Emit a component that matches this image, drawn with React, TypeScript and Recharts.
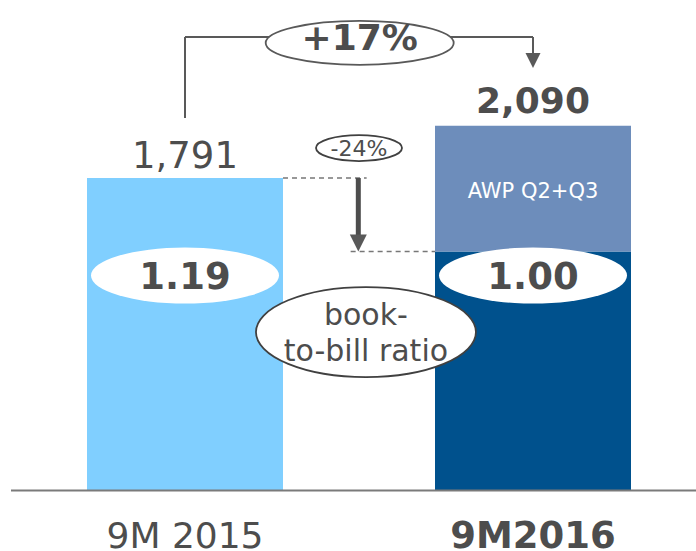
import React from 'react';
import {
    BarChart,
    Bar,
    Cell,
    XAxis,
    YAxis,
    LabelList,
    ReferenceLine,
    ReferenceDot,
} from 'recharts';

// order intake, EUR m
const categories = ['9M 2015', '9M2016'];
const categoryPos = [0.5, 1.5];
const baseOrders = [1791, 1370];
const awpOrders = [0, 720];
const totalLabels = ['1,791', '2,090'];
const bookToBill = ['1.19', '1.00'];
const growthLabel = '+17%';
const dropLabel = '-24%';
const awpLabel = 'AWP Q2+Q3';

const FONT = '"DejaVu Sans", Verdana, sans-serif';
const TEXT = '#4d4d4d';
const LINE = '#595959';
const barColors = ['#80cfff', '#00518d'];
const awpColor = '#6d8dbb';

const chartData = categories.map((name, i) => ({
    pos: categoryPos[i],
    name,
    base: baseOrders[i],
    awp: awpOrders[i],
}));

const totals = baseOrders.map((v, i) => v + awpOrders[i]);

// half the bar width, in x-axis units (bar 196px, band 348px)
const HALF_BAR = 98 / 348;
const MID = 1.0;

const CategoryTick = (props: any) => {
    const { x, y, payload } = props;
    const i = categoryPos.indexOf(payload.value);
    return (
        <text
            x={x}
            y={y + 49.5}
            textAnchor="middle"
            fill={TEXT}
            fontFamily={FONT}
            fontSize={i === 1 ? 37 : 36}
            fontWeight={i === 1 ? 'bold' : 'normal'}
        >
            {categories[i]}
        </text>
    );
};

const arrowDown = (w: number, h: number) => (props: any) => {
    const { cx, cy } = props;
    return (
        <path
            d={`M${cx - w / 2},${cy - h} L${cx + w / 2},${cy - h} L${cx},${cy} Z`}
            fill={LINE}
        />
    );
};

const ellipseText = (
    lines: string[],
    opts: { rx: number; ry: number; dy: number; size: number; bold?: boolean; stroke?: string; textDy: number; lineGap?: number }
) => (props: any) => {
    const { cx, cy } = props;
    return (
        <g>
            <ellipse
                cx={cx}
                cy={cy + opts.dy}
                rx={opts.rx}
                ry={opts.ry}
                fill="#fff"
                stroke={opts.stroke || 'none'}
                strokeWidth={1.8}
            />
            {lines.map((t, k) => (
                <text
                    key={k}
                    x={cx}
                    y={cy + opts.textDy + k * (opts.lineGap || 0)}
                    textAnchor="middle"
                    fill={TEXT}
                    fontFamily={FONT}
                    fontSize={opts.size}
                    fontWeight={opts.bold ? 'bold' : 'normal'}
                >
                    {t}
                </text>
            ))}
        </g>
    );
};

const totalText = (i: number) => (props: any) => {
    const { cx, cy } = props;
    return (
        <text
            x={cx}
            y={cy - (i === 1 ? 13 : 10)}
            textAnchor="middle"
            fill={TEXT}
            fontFamily={FONT}
            fontSize={i === 1 ? 36 : 37}
            fontWeight={i === 1 ? 'bold' : 'normal'}
        >
            {totalLabels[i]}
        </text>
    );
};

const AwpLabel = (props: any) => {
    const { x, y, width, height, value } = props;
    if (!value) return null;
    return (
        <text
            x={x + width / 2}
            y={y + height / 2 + 9}
            textAnchor="middle"
            fill="#fff"
            fontFamily={FONT}
            fontSize={21}
        >
            {awpLabel}
        </text>
    );
};

export default function App() {
    const bracketTop = 2600;
    const ratioLevel = 1232;
    return (
        <div
            style={{
                position: 'absolute',
                left: 0,
                top: 0,
                width: 696,
                height: 551,
                overflow: 'hidden',
                background: '#fff',
            }}
        >
            <BarChart
                width={707}
                height={551}
                data={chartData}
                margin={{ top: 2, right: 0, left: 11, bottom: 0 }}
            >
                <XAxis
                    dataKey="pos"
                    type="number"
                    domain={[0, 2]}
                    ticks={categoryPos}
                    tickLine={false}
                    axisLine={{ stroke: '#7a7a7a', strokeWidth: 2 }}
                    height={60.5}
                    tick={<CategoryTick />}
                    interval={0}
                />
                <YAxis hide domain={[0, 2800]} />
                <Bar dataKey="base" stackId="a" barSize={196} isAnimationActive={false}>
                    {chartData.map((_, i) => (
                        <Cell key={i} fill={barColors[i]} />
                    ))}
                </Bar>
                <Bar dataKey="awp" stackId="a" barSize={196} fill={awpColor} isAnimationActive={false}>
                    <LabelList dataKey="awp" content={<AwpLabel />} />
                </Bar>

                {/* totals */}
                {totals.map((t, i) => (
                    <ReferenceDot key={`t${i}`} x={categoryPos[i]} y={t} r={0} shape={totalText(i)} />
                ))}

                {/* +17% bracket */}
                <ReferenceLine
                    segment={[{ x: categoryPos[0], y: 2135 }, { x: categoryPos[0], y: bracketTop }]}
                    stroke={LINE}
                    strokeWidth={2}
                />
                <ReferenceLine
                    segment={[{ x: categoryPos[0], y: bracketTop }, { x: categoryPos[1], y: bracketTop }]}
                    stroke={LINE}
                    strokeWidth={2}
                />
                <ReferenceLine
                    segment={[{ x: categoryPos[1], y: bracketTop }, { x: categoryPos[1], y: 2480 }]}
                    stroke={LINE}
                    strokeWidth={2}
                />
                <ReferenceDot x={categoryPos[1]} y={2422} r={0} shape={arrowDown(15, 15)} />
                <ReferenceDot
                    x={MID + 0.002}
                    y={bracketTop}
                    r={0}
                    shape={ellipseText([growthLabel], { rx: 94, ry: 22, dy: 6, size: 36, bold: true, stroke: LINE, textDy: 13 })}
                />

                {/* -24% drop */}
                <ReferenceLine
                    segment={[{ x: categoryPos[0] + HALF_BAR, y: baseOrders[0] }, { x: MID + 0.022, y: baseOrders[0] }]}
                    stroke="#777"
                    strokeWidth={1.5}
                    strokeDasharray="5 4"
                />
                <ReferenceLine
                    segment={[{ x: MID - 0.024, y: baseOrders[1] }, { x: categoryPos[1] - HALF_BAR, y: baseOrders[1] }]}
                    stroke="#777"
                    strokeWidth={1.5}
                    strokeDasharray="5 4"
                />
                <ReferenceLine
                    segment={[{ x: MID - 0.002, y: baseOrders[0] }, { x: MID - 0.002, y: baseOrders[1] + 80 }]}
                    stroke={TEXT}
                    strokeWidth={5}
                />
                <ReferenceDot x={MID - 0.002} y={baseOrders[1]} r={0} shape={arrowDown(17, 17)} />
                <ReferenceDot
                    x={MID}
                    y={1963}
                    r={0}
                    shape={ellipseText([dropLabel], { rx: 43, ry: 13, dy: 0, size: 22, stroke: '#404040', textDy: 8 })}
                />

                {/* book-to-bill ratios */}
                {bookToBill.map((b, i) => (
                    <ReferenceDot
                        key={`b${i}`}
                        x={categoryPos[i]}
                        y={ratioLevel}
                        r={0}
                        shape={ellipseText([b], { rx: 94, ry: 28, dy: 0, size: 37, bold: true, textDy: 13 })}
                    />
                ))}
                <ReferenceDot
                    x={MID + 0.02}
                    y={908}
                    r={0}
                    shape={ellipseText(['book-', 'to-bill ratio'], {
                        rx: 110,
                        ry: 45,
                        dy: 0,
                        size: 30,
                        stroke: '#404040',
                        textDy: -7,
                        lineGap: 36,
                    })}
                />
            </BarChart>
        </div>
    );
}
